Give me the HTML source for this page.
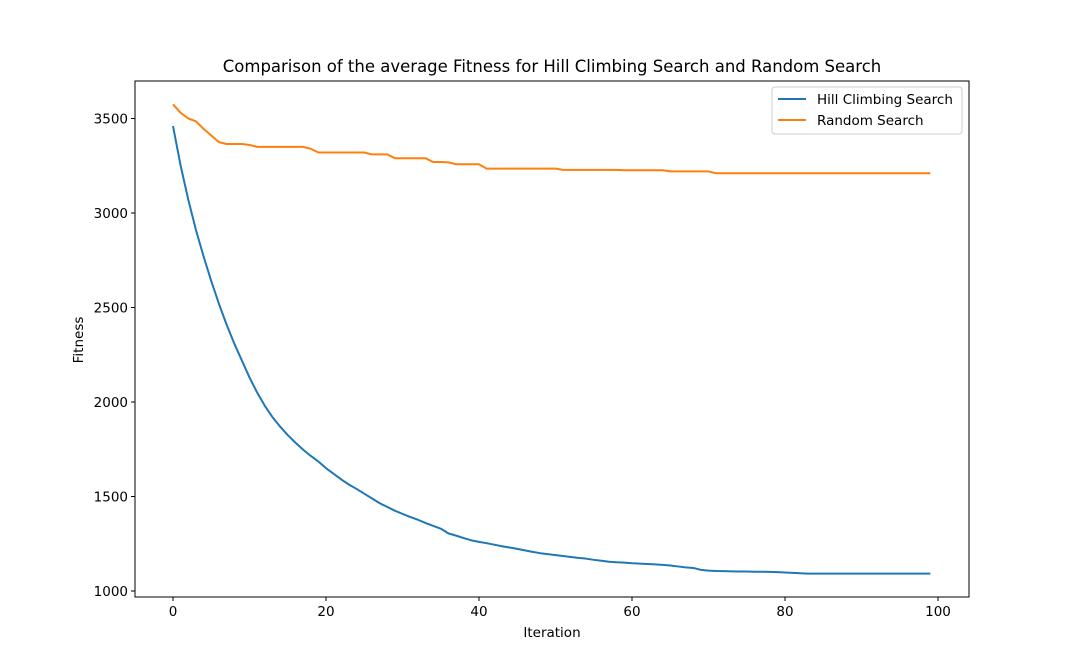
<!DOCTYPE html>
<html><head><meta charset="utf-8"><style>
body{margin:0;background:#fff;}
svg{display:block;font-family:"DejaVu Sans","Liberation Sans",sans-serif;}
</style></head><body>
<svg id="chart" width="1077" height="671">
<rect x="0" y="0" width="1077" height="671" fill="#fff"/>
<text x="552" y="72" text-anchor="middle" font-size="16.5">Comparison of the average Fitness for Hill Climbing Search and Random Search</text>
<g id="plot"></g>
<text x="552" y="637" text-anchor="middle" font-size="13.5">Iteration</text>
<text x="0" y="0" transform="translate(83,340) rotate(-90)" text-anchor="middle" font-size="13.5">Fitness</text>
<g>
<rect x="772" y="87" width="190" height="47" rx="3" fill="#fff" stroke="#ccc"/>
<line x1="778" y1="99" x2="806" y2="99" stroke="#1f77b4" stroke-width="2"/>
<text x="817" y="104" font-size="13.5">Hill Climbing Search</text>
<line x1="778" y1="120" x2="806" y2="120" stroke="#ff7f0e" stroke-width="2"/>
<text x="817" y="125" font-size="13.5">Random Search</text>
</g>
</svg>
<script>
const hill=[3460,3250,3070,2910,2770,2640,2520,2410,2310,2220,2130,2050,1980,1920,1870,1825,1785,1748,1715,1685,1650,1620,1590,1563,1540,1515,1490,1465,1445,1425,1408,1392,1377,1360,1345,1330,1305,1293,1280,1268,1260,1253,1245,1237,1230,1223,1215,1207,1200,1195,1190,1185,1180,1175,1171,1165,1160,1155,1152,1150,1147,1145,1143,1141,1138,1135,1130,1125,1122,1112,1108,1106,1105,1104,1103,1103,1102,1102,1101,1100,1098,1096,1094,1092,1092,1092,1092,1092,1092,1092,1092,1092,1092,1092,1092,1092,1092,1092,1092,1092];
const random=[3575,3530,3500,3485,3445,3410,3375,3365,3365,3365,3360,3350,3350,3350,3350,3350,3350,3350,3340,3320,3320,3320,3320,3320,3320,3320,3310,3310,3310,3290,3290,3290,3290,3290,3270,3270,3268,3258,3258,3258,3258,3235,3235,3235,3235,3235,3235,3235,3235,3235,3235,3228,3228,3228,3228,3228,3228,3228,3228,3226,3226,3226,3226,3226,3226,3220,3220,3220,3220,3220,3220,3210,3210,3210,3210,3210,3210,3210,3210,3210,3210,3210,3210,3210,3210,3210,3210,3210,3210,3210,3210,3210,3210,3210,3210,3210,3210,3210,3210,3210];
const xTicks=[0,20,40,60,80,100];
const yTicks=[1000,1500,2000,2500,3000,3500];
const L=135,R=969,T=81,B=597;
const xs=v=>173+v*7.65;
const ys=v=>591-(v-1000)*0.189;
const NS="http://www.w3.org/2000/svg";
const g=document.getElementById('plot');
function mk(t,a){const e=document.createElementNS(NS,t);for(const k in a)e.setAttribute(k,a[k]);g.appendChild(e);return e;}
xTicks.forEach(t=>{
 const l=mk('line',{x1:xs(t),x2:xs(t),y1:B,y2:B+4,stroke:'#000'});
 
 
 const tx=mk('text',{x:xs(t),y:B+19,'text-anchor':'middle','font-size':'13.5'});tx.textContent=t;
 
 
});
yTicks.forEach(t=>{
 const l=mk('line',{x1:L-4,x2:L,y1:ys(t),y2:ys(t),stroke:'#000'});
 
 
 const tx=mk('text',{x:L-7,y:ys(t)+5,'text-anchor':'end','font-size':'13.5'});tx.textContent=t;
 
 
});
function line(d,c,n){
 const p=mk('polyline',{points:d.map((v,i)=>xs(i)+','+ys(v)).join(' '),fill:'none',stroke:c,'stroke-width':2,'stroke-linejoin':'round'});
 
 
}
line(hill,'#1f77b4','hill-climbing-line');
line(random,'#ff7f0e','random-search-line');
const fr=mk('rect',{x:L,y:T,width:R-L,height:B-T,fill:'none',stroke:'#000','stroke-width':1});


</script>
</body></html>
